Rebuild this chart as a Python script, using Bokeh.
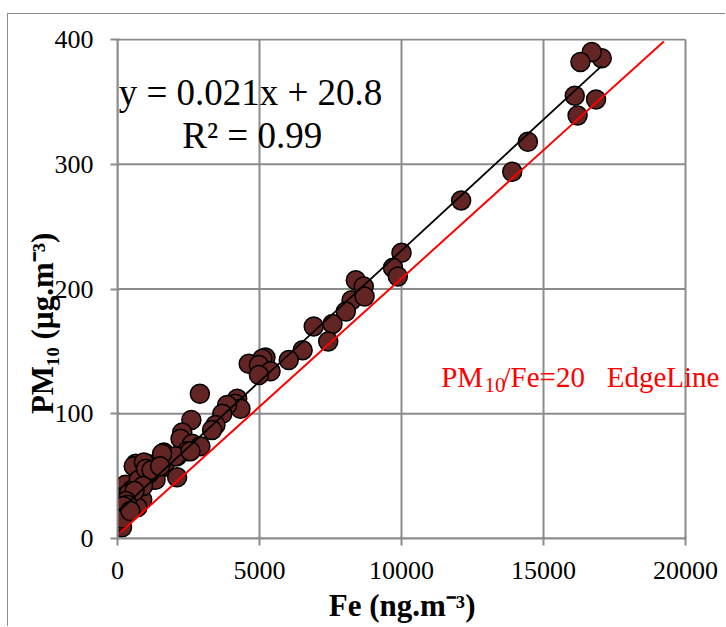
from bokeh.plotting import figure
from bokeh.models import Range1d, FixedTicker, Label
from bokeh.embed import file_html
from bokeh.resources import INLINE

# ---------------- data ----------------
fe = [17050, 16700, 16300, 16100, 16850, 16200, 14450, 13900, 12100,
      10000, 9700, 9870,
      8390, 8670, 8240, 8700, 8040, 7570, 6910, 7420, 6520, 6030, 5210, 5100,
      4620, 4980, 5390, 4980, 2900, 4215, 4150, 4330, 3860, 3690, 3450, 3330,
      2600, 2280, 2220, 2630, 2920, 2450, 2100, 1630, 1570, 2100, 1280, 1045,
      640, 810, 1220, 1045, 280, 520, 810, 460, 160, 50, 280, 690, 220, 100,
      160, 570, 750, 400, 870, 700, 110, 280, 50, 1340, 1100, 930, 1690, 2040,
      1570, 2570, 1000, 1200, 900, 600, 300, 350, 200, 150, 450, 1500]
pm10 = [385, 390, 382, 355, 352, 339, 318, 294, 271,
        229, 217, 210,
        207, 202, 191, 194, 182, 172, 170, 158, 151, 143, 145, 144,
        140, 139, 134, 131, 116, 112, 108, 104, 107, 100, 91, 87,
        95, 85, 80, 76, 74, 70, 66, 69, 57, 49, 53, 60,
        60, 55, 47, 48, 43, 39, 33, 32, 33, 21, 24, 29, 18, 12,
        9, 58, 47, 36, 31, 25, 22, 20, 14, 47, 52, 61, 61, 66,
        68, 70, 56, 55, 42, 38, 30, 27, 26, 16, 22, 58]

x_ticks = [0, 5000, 10000, 15000, 20000]
y_ticks = [0, 100, 200, 300, 400]

fit_slope = 0.021
fit_intercept = 20.8
eq_text = "y = 0.021x + 20.8"
r2_text = "R\u00b2 = 0.99"

edge_x = [106, 19236]
edge_y = [5.0, 398.4]

x_title = "Fe (ng.m\u207b\u00b3)"
y_title = "PM\u2081\u2080 (\u00b5g.m\u207b\u00b3)"

# ---------------- layout ----------------
NB = "\u00a0"
OX, OY = 8, 14                 # canvas origin on the page (after margin + border)
FL, FB = 117, 538              # page position of x=0 / y=0
X20K, Y400 = 685, 39           # page position of x=20000 / y=400
FRP, FTP = 725, 38             # page position of frame right / top
H = 612

x_end = 20000 * (FRP - FL) / (X20K - FL)
y_end = 400 * (FB - FTP) / (FB - Y400)

def dx(px):
    return (px - FL) / (X20K - FL) * 20000
def dy(py):
    return (FB - py) / (FB - Y400) * 400

GRAY = "#8c8c8c"
SERIF = "Liberation Serif"

p = figure(frame_width=FRP - FL, frame_height=FB - FTP,
           output_backend="svg", toolbar_location=None,
           x_range=Range1d(0, x_end), y_range=Range1d(0, y_end),
           min_border_left=FL - OX, min_border_right=0,
           min_border_top=FTP - OY, min_border_bottom=H - (FB - OY))
p.styles = {"margin-left": "7px", "margin-top": "13px",
            "border-left": "1px solid #8c8c8c", "border-top": "1px solid #8c8c8c"}
p.outline_line_color = None
p.background_fill_color = "white"
p.border_fill_color = "white"
p.xgrid.visible = False
p.ygrid.visible = False

for ax, ticks in ((p.xaxis[0], x_ticks), (p.yaxis[0], y_ticks)):
    ax.ticker = FixedTicker(ticks=ticks)
    ax.bounds = (min(ticks), max(ticks))
    ax.axis_line_color = GRAY
    ax.axis_line_width = 2
    ax.major_tick_line_color = GRAY
    ax.major_tick_line_width = 2
    ax.major_tick_out = 7
    ax.major_tick_in = 2
    ax.minor_tick_line_color = None
    ax.major_label_text_font = SERIF
    ax.major_label_text_font_size = "26px"
    ax.major_label_text_color = "black"
    ax.axis_label_text_font = SERIF
    ax.axis_label_text_font_size = "31px"
    ax.axis_label_text_font_style = "bold"
    ax.axis_label_text_color = "black"
p.xaxis[0].major_label_standoff = 16
p.yaxis[0].major_label_standoff = 17
p.xaxis[0].axis_label = x_title + NB * 5
p.xaxis[0].axis_label_standoff = 6
p.yaxis[0].axis_label = y_title + NB * 9
p.yaxis[0].axis_label_standoff = -8

# ---------------- grid (from the tick lists) ----------------
p.segment(x0=x_ticks, x1=x_ticks, y0=[min(y_ticks)] * len(x_ticks), y1=[max(y_ticks)] * len(x_ticks),
          line_color=GRAY, line_width=2)
p.segment(x0=[min(x_ticks)] * len(y_ticks), x1=[max(x_ticks)] * len(y_ticks), y0=y_ticks, y1=y_ticks,
          line_color=GRAY, line_width=2)

# ---------------- marks ----------------
p.scatter(fe, pm10, size=19, fill_color="#632523", line_color="black", line_width=1.5)

fit_x = [min(fe), max(fe)]
fit_y = [fit_slope * v + fit_intercept for v in fit_x]
p.line(fit_x, fit_y, line_color="black", line_width=1.8)
p.line(edge_x, edge_y, line_color="#ff0000", line_width=2)

# ---------------- texts ----------------
def lab(text, px, base_py, size, color="black", align="left"):
    # rendered baseline sits ~0.335 em below the given y, so compensate
    py = base_py - 0.335 * size
    p.add_layout(Label(x=dx(px), y=dy(py), text=text, text_font=SERIF,
                       text_font_size=f"{size}px", text_color=color,
                       text_align=align, text_baseline="alphabetic"))

lab(eq_text, 250, 104, 37, align="center")
lab(r2_text, 251.7, 147.3, 37, align="center")

lab("PM", 440.7, 386.7, 29, color="#ff0000")
lab("10", 484, 392, 21, color="#ff0000")
lab("/Fe=20" + NB * 3 + "EdgeLine", 502, 386.7, 29, color="#ff0000")

open("out.html", "w").write(file_html(p, INLINE))
